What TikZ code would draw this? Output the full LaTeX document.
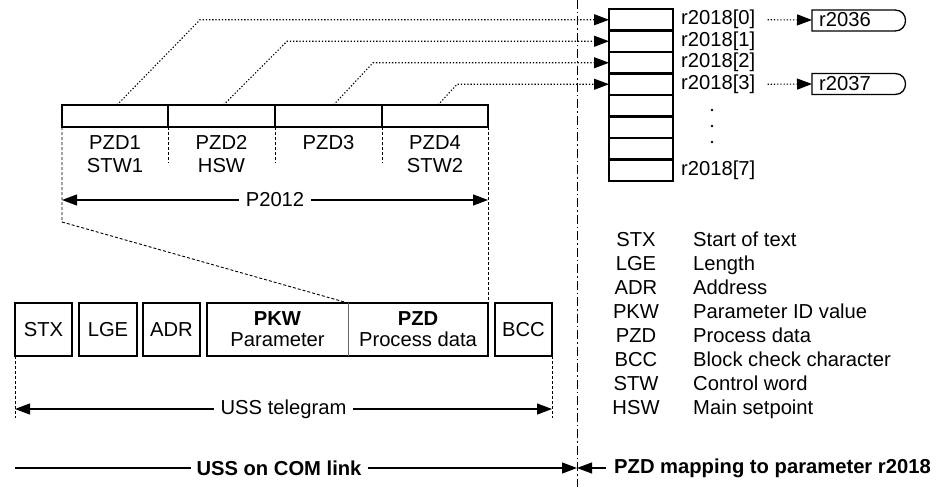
\documentclass[tikz,border=0pt]{standalone}
\usepackage{fontspec}
\setmainfont{Liberation Sans}
\usetikzlibrary{arrows.meta,calc}
\begin{document}
\begin{tikzpicture}[x=1pt,y=-1pt,
  font=\fontsize{20.2}{23}\selectfont,
  cell/.style={draw, line width=2.1pt, anchor=north west, inner sep=0pt, outer sep=0pt},
  plain/.style={anchor=north west, inner sep=0pt, outer sep=0pt},
  dotconn/.style={line width=1.1pt, dash pattern=on 1.3pt off 1.9pt},
  dashln/.style={line width=0.9pt, dash pattern=on 3pt off 2pt},
  tip/.style={-{Triangle[length=15pt,width=11pt]}},
  dimarrow/.style={line width=1.2pt, {Triangle[length=15pt,width=11pt]}-{Triangle[length=15pt,width=11pt]}},
  lbl/.style={anchor=west, inner sep=0pt}]
\useasboundingbox (0,0) rectangle (936,487);

% separator
\coordinate (v1) at (577,0);
\coordinate (v2) at (577,487);
\draw[line width=0.9pt, dash pattern=on 9pt off 3pt on 1.5pt off 3pt] (v1) -- (v2);

% top PZD word block
\node[cell, minimum width=106, minimum height=22] (p1) at (62,105) {};
\node[cell, minimum width=107, minimum height=22] (p2) at (168,105) {};
\node[cell, minimum width=107, minimum height=22] (p3) at (275,105) {};
\node[cell, minimum width=106, minimum height=22] (p4) at (382,105) {};
\node[align=center, inner sep=0pt] (t1) at ($(p1.south)+(0,27.5)$) {PZD1\\STW1};
\node[align=center, inner sep=0pt] (t2) at ($(p2.south)+(0,27.5)$) {PZD2\\HSW};
\node[inner sep=0pt] (t3) at ($(p3.south)+(0,16)$) {PZD3};
\node[align=center, inner sep=0pt] (t4) at ($(p4.south)+(0,27.5)$) {PZD4\\STW2};
\draw[dashln] (p1.south east) -- ++(0,36);
\draw[dashln] (p2.south east) -- ++(0,36);
\draw[dashln] (p3.south east) -- ++(0,36);

% register r2018
\foreach \i in {0,...,7}{
  \node[cell, minimum width=64, minimum height=21.5] (r\i) at (609,{9+21.5*\i}) {};
}
\node[lbl, xshift=8pt] (l0) at (r0.east) {r2018[0]};
\node[lbl, xshift=8pt] (l1) at (r1.east) {r2018[1]};
\node[lbl, xshift=8pt] (l2) at (r2.east) {r2018[2]};
\node[lbl, xshift=8pt] (l3) at (r3.east) {r2018[3]};
\node[lbl, xshift=8pt] (l7) at (r7.east) {r2018[7]};
\fill (712,110) circle (1.3);
\fill (712,126) circle (1.3);
\fill (712,142) circle (1.3);

% dotted connectors
\coordinate (b1) at (200,19.75);
\coordinate (b2) at (287,41.25);
\coordinate (b3) at (373,62.75);
\coordinate (b4) at (457,84.25);
\draw[dotconn, tip] ($(p1.north)+(2,0)$) -- (b1) -- (r0.west);
\draw[dotconn, tip] ($(p2.north)+(2,0)$) -- (b2) -- (r1.west);
\draw[dotconn, tip] ($(p3.north)+(5,0)$) -- (b3) -- (r2.west);
\draw[dotconn, tip] ($(p4.north)+(3,0)$) -- (b4) -- (r3.west);

% outputs r2036 / r2037
\coordinate (o1) at (812,20);
\coordinate (o2) at (812,84);
\draw[line width=1.3pt] (812,10) -- (895,10) .. controls (909,10) and (909,31) .. (895,31) -- (812,31) -- cycle;
\draw[line width=1.3pt] (812,73.5) -- (895,73.5) .. controls (909,73.5) and (909,94.5) .. (895,94.5) -- (812,94.5) -- cycle;
\node[lbl] (o1t) at (819,20) {r2036};
\node[lbl] (o2t) at (819,84) {r2037};
\draw[dotconn, tip] ($(l0.east)+(12,0)$) -- (o1);
\draw[dotconn, tip] ($(l3.east)+(12,0)$) -- (o2);

% P2012 dimension
\coordinate (a1) at (62,200);
\coordinate (a2) at (488,200);
\draw[dimarrow] (a1) -- node[fill=white, inner xsep=7pt, inner ysep=1pt] {P2012} (a2);

% USS telegram boxes
\node[cell, minimum width=57, minimum height=53] (stx) at (15,303) {STX};
\node[cell, minimum width=58, minimum height=53] (lge) at (79,303) {LGE};
\node[cell, minimum width=57, minimum height=53] (adr) at (143,303) {ADR};
\node[plain, minimum width=141, minimum height=53, align=center, font=\fontsize{20.2}{21}\selectfont] (pkw) at (207,303) {\textbf{PKW}\\Parameter};
\node[plain, minimum width=140, minimum height=53, align=center, font=\fontsize{20.2}{21}\selectfont] (pzd) at (348,303) {\textbf{PZD}\\Process data};
\node[cell, minimum width=57, minimum height=53] (bcc) at (495,303) {BCC};
\draw[line width=2.1pt] (pkw.north west) rectangle (pzd.south east);
\draw[line width=0.9pt, black!60] (pkw.north east) -- (pkw.south east);

% dashed extension lines
\coordinate (d1) at (62,222);
\draw[dashln] (p1.south west) -- (d1) -- (pkw.north east);
\draw[dashln] (p4.south east) -- (pzd.north east);
\draw[dashln] (stx.south west) -- ++(0,62);
\draw[dashln] (bcc.south east) -- ++(0,62);

% USS telegram dimension
\coordinate (u1) at (15,409);
\coordinate (u2) at (552,409);
\draw[dimarrow] (u1) -- node[fill=white, inner xsep=7pt, inner ysep=1pt] {USS telegram} (u2);

% legend
\foreach \a/\d [count=\k from 0] in {STX/Start of text, LGE/Length, ADR/Address, PKW/Parameter ID value, PZD/Process data, BCC/Block check character, STW/Control word, HSW/Main setpoint}{
  \node[anchor=base, inner sep=0pt] (ka\k) at (636,{246+24.1*\k}) {\a};
  \node[anchor=base west, inner sep=0pt] (kd\k) at (693,{246+24.1*\k}) {\d};
}

% bottom scope arrows
\coordinate (c1) at (15,468);
\coordinate (vm) at (577,468);
\draw[line width=1.2pt, tip] (c1) -- (vm);
\node[fill=white, inner xsep=6pt, inner ysep=1pt] (uss) at (279,468) {\textbf{USS on COM link}};
\node[lbl] (pm) at (614,468) {\textbf{PZD mapping to parameter r2018}};
\draw[line width=1.2pt, tip] ($(pm.west)+(-8,0)$) -- (vm);
\end{tikzpicture}
\end{document}
